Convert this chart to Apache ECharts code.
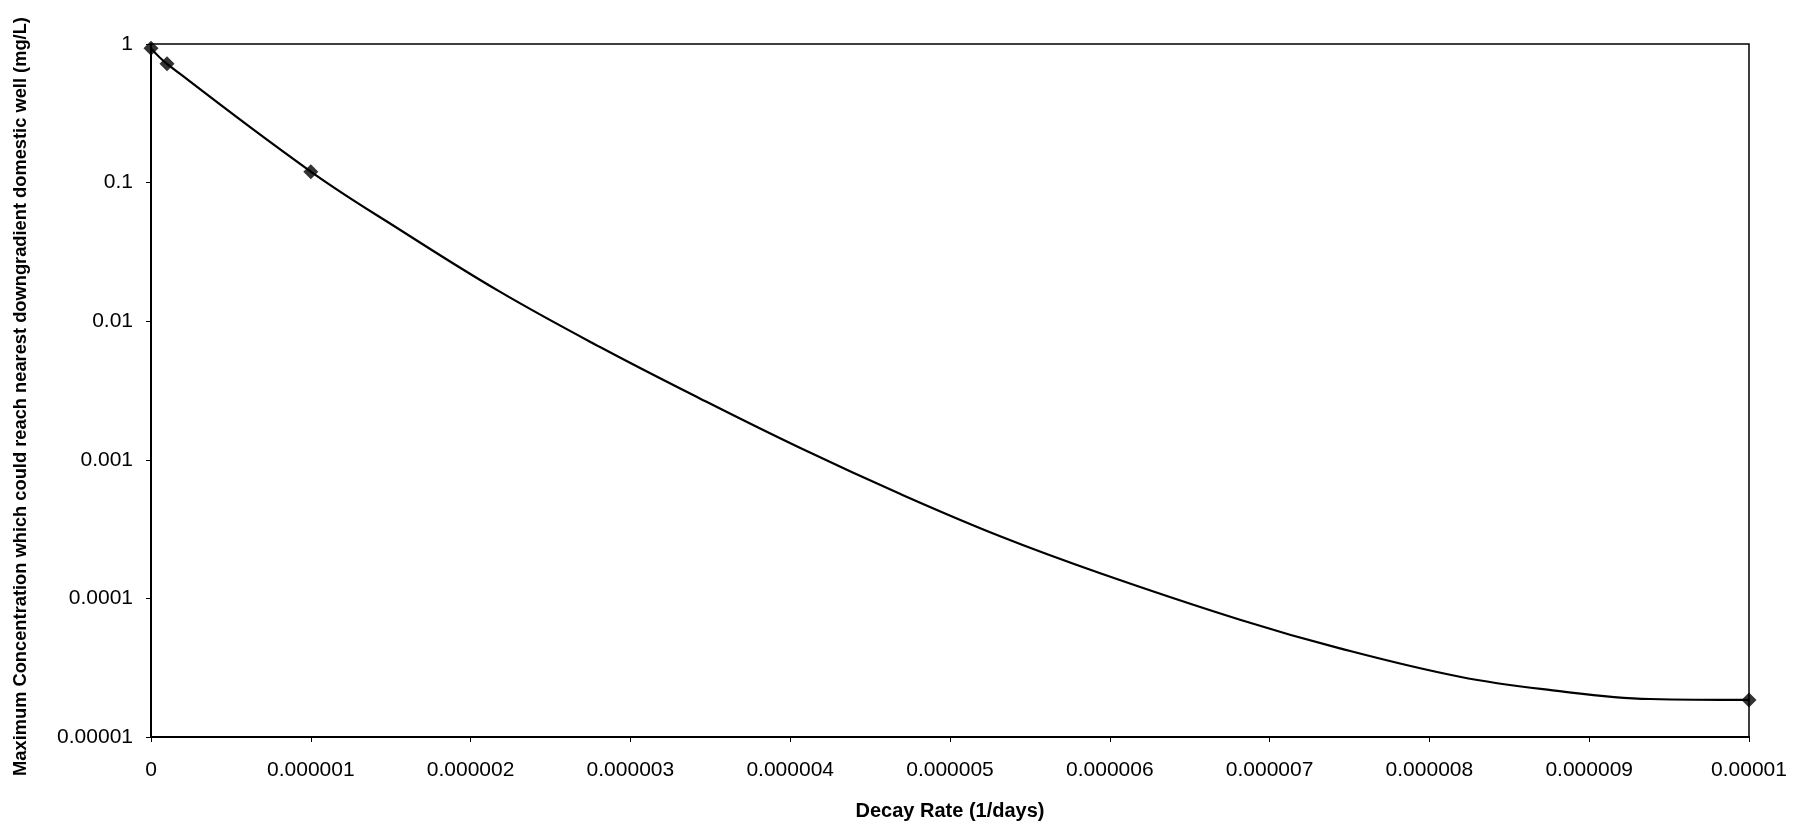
<!DOCTYPE html>
<html>
<head>
<meta charset="utf-8">
<title>Maximum Concentration vs Decay Rate</title>
<script src="https://cdn.jsdelivr.net/npm/echarts@6/dist/echarts.min.js"></script>
<style>
  html, body { margin: 0; padding: 0; background: #fff; }
  #chart { width: 1805px; height: 827px; }
</style>
</head>
<body>
<div id="chart"></div>
<script>
// Computed points (decay rate in 1/days, concentration in mg/L)
const decayRate = [0, 1e-7, 1e-6, 1e-5];
const maxConc = [0.93, 0.72, 0.12, 0.0000185];

// Fitted smooth curve through the computed points
const curveRate = [0, 1e-7, 1e-6, 1.56e-6, 2.18e-6, 2.81e-6, 3.44e-6, 4.06e-6, 4.69e-6,
  5.31e-6, 5.94e-6, 6.82e-6, 7.44e-6, 8.19e-6, 8.76e-6, 9.38e-6, 1e-5];
const curveConc = [0.93, 0.72, 0.12, 0.0455, 0.0164, 0.00651, 0.00275, 0.00122, 0.000566,
  0.000282, 0.000152, 0.0000699, 0.0000436, 0.0000272, 0.0000218, 0.0000188, 0.0000185];

// Tick labels
const xTickLabels = ['0', '0.000001', '0.000002', '0.000003', '0.000004', '0.000005',
  '0.000006', '0.000007', '0.000008', '0.000009', '0.00001'];
const yTickLabels = ['0.00001', '0.0001', '0.001', '0.01', '0.1', '1'];

const xTitle = 'Decay Rate (1/days)';
const yTitle = 'Maximum Concentration which could reach nearest downgradient domestic well (mg/L)';

const FONT = '"Liberation Sans", Arial, sans-serif';

const chart = echarts.init(document.getElementById('chart'), null, { renderer: 'canvas' });

chart.setOption({
  backgroundColor: '#ffffff',
  animation: false,
  textStyle: { fontFamily: FONT, color: '#000' },
  grid: {
    left: 151, right: 56, top: 44, bottom: 90,
    show: true, borderColor: '#000', borderWidth: 1.5, backgroundColor: 'transparent'
  },
  xAxis: {
    type: 'value',
    min: 0,
    max: 1e-5,
    interval: 1e-6,
    name: xTitle,
    nameLocation: 'middle',
    nameGap: 64,
    nameTextStyle: { fontFamily: FONT, fontSize: 20, fontWeight: 'bold', color: '#000' },
    axisLine: { show: true, onZero: false, lineStyle: { color: '#000', width: 2 } },
    axisTick: { show: true, length: 5, lineStyle: { color: '#000', width: 1 } },
    axisLabel: {
      margin: 23, fontFamily: FONT, fontSize: 21, color: '#000',
      formatter: v => xTickLabels[Math.round(v / 1e-6)]
    },
    splitLine: { show: false }
  },
  yAxis: {
    type: 'log',
    logBase: 10,
    min: 0.00001,
    max: 1,
    name: yTitle,
    nameLocation: 'middle',
    nameGap: 121,
    nameTextStyle: {
      fontFamily: FONT, fontSize: 18.3, fontWeight: 'bold', color: '#000',
      padding: [0, 12, 0, 0]
    },
    axisLine: { show: true, lineStyle: { color: '#000', width: 2 } },
    axisTick: { show: true, length: 5, lineStyle: { color: '#000', width: 1 } },
    axisLabel: {
      margin: 18, fontFamily: FONT, fontSize: 21, color: '#000',
      formatter: v => yTickLabels[Math.round(Math.log10(v)) + 5]
    },
    splitLine: { show: false },
    minorTick: { show: false }
  },
  series: [
    {
      name: 'curve',
      type: 'line',
      smooth: 0.4,
      symbol: 'none',
      lineStyle: { color: '#000', width: 2.2 },
      data: curveRate.map((x, i) => [x, curveConc[i]]),
      z: 2
    },
    {
      name: 'points',
      type: 'scatter',
      symbol: 'diamond',
      symbolSize: 15,
      itemStyle: { color: '#000' },
      data: decayRate.map((x, i) => [x, maxConc[i]]),
      z: 3
    }
  ]
});
</script>
</body>
</html>
